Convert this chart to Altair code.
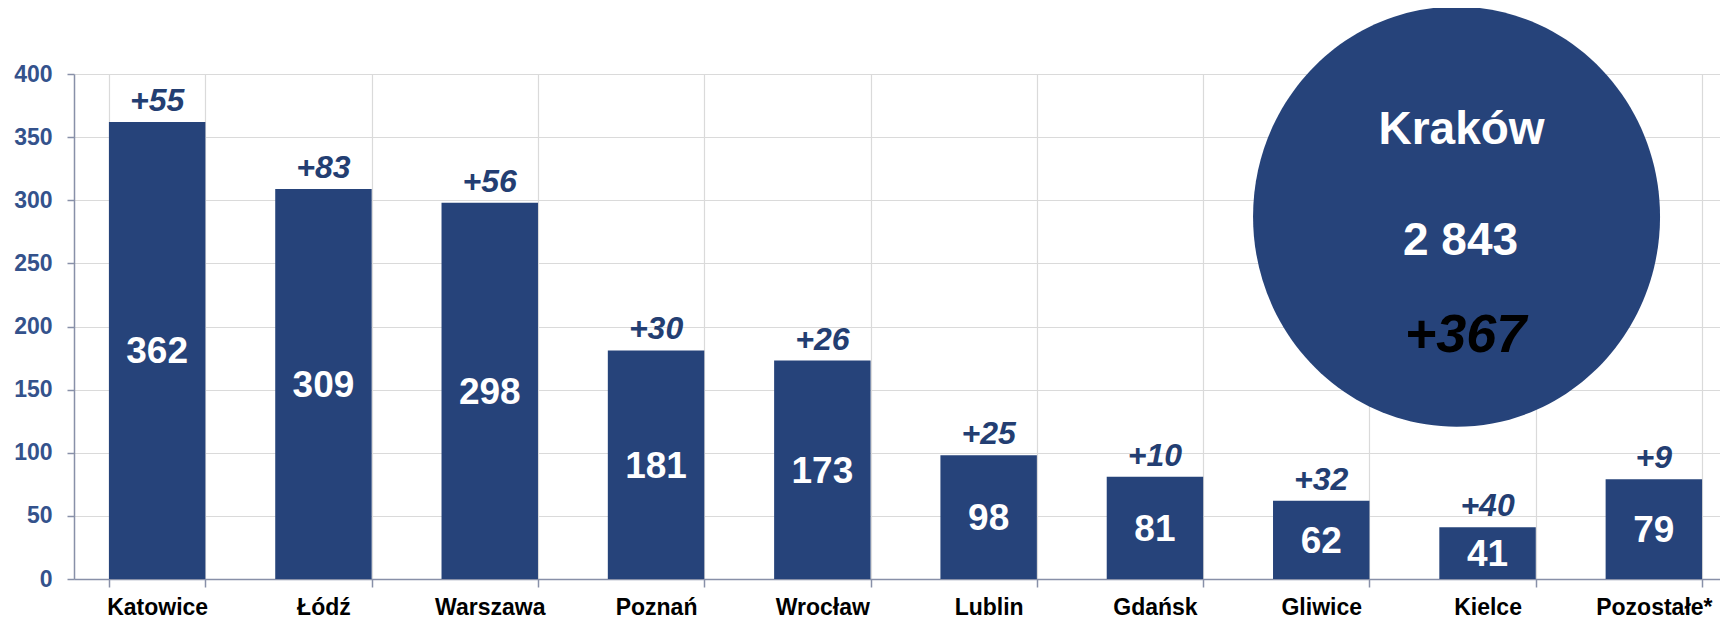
import altair as alt
import pandas as pd

cities = ["Katowice", "Łódź", "Warszawa", "Poznań", "Wrocław", "Lublin",
          "Gdańsk", "Gliwice", "Kielce", "Pozostałe*"]
values = [362, 309, 298, 181, 173, 98, 81, 62, 41, 79]
changes = ["+55", "+83", "+56", "+30", "+26", "+25", "+10", "+32", "+40", "+9"]
y_ticks = [0, 50, 100, 150, 200, 250, 300, 350, 400]

hub_city = "Kraków"
hub_total = "2 843"
hub_change = "+367"
hub_anchor_city = "Kielce"
hub_anchor_value = 287

BAR = "#26437A"
FONT = "Liberation Sans"
AXIS_COLOR = "#8890A8"
GRID = "#DADADA"
ELLIPSE = "M -1 0 A 1 1.032 0 1 0 1 0 A 1 1.032 0 1 0 -1 0 Z"

df = pd.DataFrame({"city": cities, "value": values, "change": changes})
hub = pd.DataFrame({"city": [hub_anchor_city], "name": [hub_city],
                    "total": [hub_total], "delta": [hub_change]})

xscale = alt.Scale(domain=cities, range=[0, 1663], paddingInner=0.42, paddingOuter=0.21)
yscale = alt.Scale(domain=[0, 400], nice=False)

x_enc = alt.X("city:N", scale=xscale, title=None,
              axis=alt.Axis(tickBand="extent", labelAngle=0, labelFont=FONT,
                            labelFontSize=23, labelFontWeight="bold", labelColor="#000000",
                            tickSize=8, tickColor=AXIS_COLOR, tickWidth=1.5,
                            domainColor=AXIS_COLOR, domainWidth=1.5,
                            labelBaseline="alphabetic", labelPadding=27,
                            grid=True, gridColor=GRID, gridWidth=1.2))
y_enc = alt.Y("value:Q", scale=yscale, title=None,
              axis=alt.Axis(values=y_ticks, labelFont=FONT, labelFontSize=23,
                            labelFontWeight="bold", labelColor="#34528C",
                            tickSize=7, tickColor=AXIS_COLOR, tickWidth=1.5,
                            domainColor=AXIS_COLOR, domainWidth=1.5, labelPadding=15,
                            grid=True, gridColor=GRID, gridWidth=1.2))

base = alt.Chart(df)

bars = base.mark_bar(color=BAR).encode(x=x_enc, y=y_enc)

inner = base.transform_calculate(half="datum.value / 2").mark_text(
    font=FONT, fontSize=37, fontWeight="bold", color="white", baseline="middle", dy=2
).encode(x=alt.X("city:N", scale=xscale), y=alt.Y("half:Q", scale=yscale),
         text=alt.Text("value:Q"))

delta = base.mark_text(
    font=FONT, fontSize=32, fontWeight="bold", fontStyle="italic", color="#233E72",
    baseline="alphabetic", dy=-11
).encode(x=alt.X("city:N", scale=xscale), y=alt.Y("value:Q", scale=yscale),
         text="change:N")

hb = alt.Chart(hub)
bubble = hb.mark_point(shape=ELLIPSE, size=407 * 407, fill=BAR, filled=True,
                       strokeWidth=0, opacity=1, xOffset=-31).encode(
    x=alt.X("city:N", scale=xscale), y=alt.datum(hub_anchor_value, scale=yscale))
t_name = hb.mark_text(font=FONT, fontSize=46, fontWeight="bold", color="white",
                      baseline="alphabetic", dx=-26, dy=-73).encode(
    x=alt.X("city:N", scale=xscale), y=alt.datum(hub_anchor_value), text="name:N")
t_total = hb.mark_text(font=FONT, fontSize=46, fontWeight="bold", color="white",
                       baseline="alphabetic", dx=-27, dy=38).encode(
    x=alt.X("city:N", scale=xscale), y=alt.datum(hub_anchor_value), text="total:N")
t_delta = hb.mark_text(font=FONT, fontSize=54, fontWeight="bold", fontStyle="italic",
                       color="black", baseline="alphabetic", dx=-22, dy=135).encode(
    x=alt.X("city:N", scale=xscale), y=alt.datum(hub_anchor_value), text="delta:N")

chart = alt.layer(bars, inner, delta, bubble, t_name, t_total, t_delta).properties(
    width=1646, height=505,
    autosize=alt.AutoSizeParams(type="none"),
    padding={"left": 66, "top": 66, "right": 0, "bottom": 40},
    background="white",
).configure_view(stroke=None)

chart.save("out.html", embed_options={"renderer": "svg", "actions": False})
